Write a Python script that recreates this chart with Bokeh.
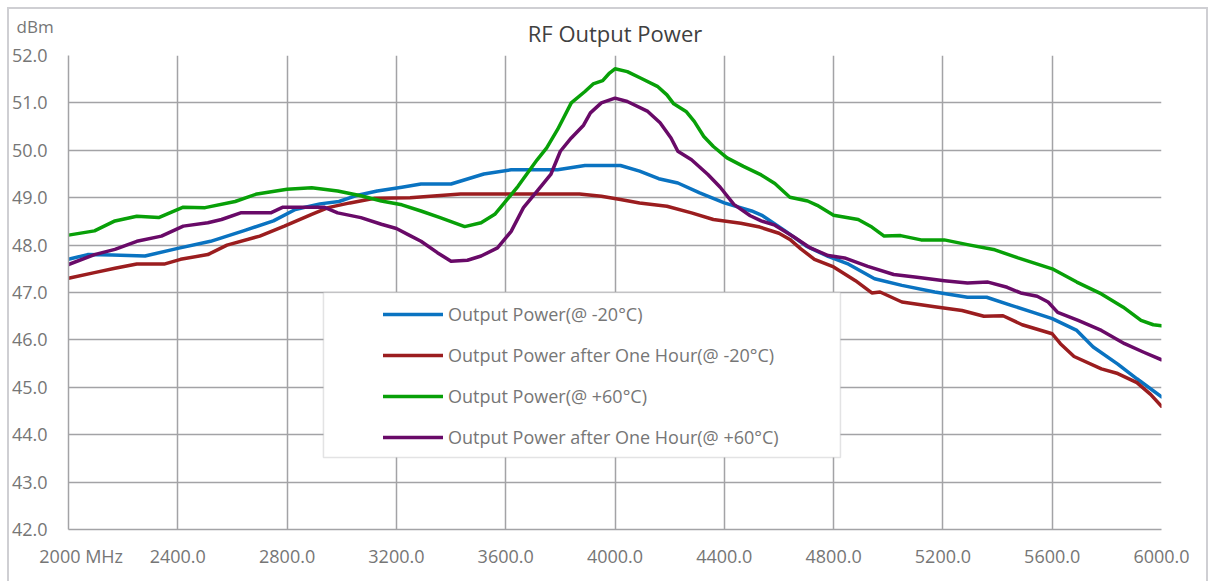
from bokeh.plotting import figure
from bokeh.models import (FixedTicker, Legend, LegendItem, Title, BoxAnnotation,
                          Range1d, NumeralTickFormatter)
from bokeh.embed import file_html
from bokeh.resources import INLINE

# ---------------- data ----------------
freq_m20 = [2000, 2070, 2160, 2280, 2400, 2520, 2640, 2750, 2830, 2920, 2990, 3050,
            3130, 3220, 3290, 3400, 3520, 3620, 3790, 3890, 4020, 4090, 4160, 4230,
            4310, 4400, 4500, 4540, 4620, 4700, 4780, 4850, 4950, 5050, 5170, 5290,
            5360, 5450, 5530, 5600, 5690, 5750, 5840, 5910, 6000]
pwr_m20 = [47.70, 47.80, 47.79, 47.77, 47.93, 48.08, 48.30, 48.51, 48.75, 48.87, 48.92, 49.04,
           49.14, 49.22, 49.29, 49.29, 49.50, 49.59, 49.59, 49.68, 49.68, 49.56, 49.40, 49.31,
           49.10, 48.89, 48.72, 48.62, 48.31, 47.98, 47.76, 47.61, 47.29, 47.15, 47.01, 46.90,
           46.90, 46.73, 46.58, 46.45, 46.20, 45.85, 45.49, 45.18, 44.80]

freq_m20_1h = [2000, 2095, 2170, 2250, 2350, 2410, 2510, 2580, 2700, 2790, 2890, 2950,
               3030, 3120, 3250, 3435, 3580, 3870, 3950, 4020, 4090, 4190, 4280, 4360,
               4460, 4530, 4600, 4640, 4680, 4730, 4800, 4880, 4940, 4970, 5050, 5170,
               5270, 5350, 5420, 5490, 5600, 5630, 5680, 5780, 5840, 5910, 5960, 6000]
pwr_m20_1h = [47.30, 47.42, 47.51, 47.60, 47.60, 47.70, 47.80, 48.00, 48.19, 48.40, 48.65, 48.79,
              48.89, 48.99, 49.00, 49.08, 49.08, 49.08, 49.03, 48.96, 48.89, 48.82, 48.68, 48.54,
              48.46, 48.38, 48.25, 48.12, 47.92, 47.70, 47.54, 47.25, 46.99, 47.01, 46.80, 46.70,
              46.62, 46.50, 46.51, 46.32, 46.13, 45.92, 45.65, 45.39, 45.29, 45.10, 44.85, 44.60]

freq_p60 = [2000, 2095, 2170, 2250, 2330, 2420, 2500, 2610, 2690, 2800, 2890, 2985,
            3070, 3145, 3220, 3290, 3360, 3450, 3510, 3560, 3595, 3645, 3680, 3715,
            3750, 3790, 3840, 3890, 3920, 3955, 3980, 4000, 4045, 4095, 4155, 4190,
            4215, 4260, 4290, 4325, 4360, 4410, 4470, 4535, 4585, 4640, 4705, 4740,
            4800, 4890, 4940, 4985, 5045, 5120, 5205, 5290, 5390, 5475, 5600, 5690,
            5780, 5860, 5925, 5970, 6000]
pwr_p60 = [48.21, 48.30, 48.51, 48.61, 48.58, 48.80, 48.79, 48.92, 49.08, 49.18, 49.21, 49.14,
           49.04, 48.93, 48.85, 48.72, 48.58, 48.39, 48.47, 48.65, 48.89, 49.24, 49.52, 49.80,
           50.05, 50.44, 51.00, 51.24, 51.40, 51.47, 51.63, 51.72, 51.66, 51.52, 51.35, 51.17,
           50.98, 50.82, 50.61, 50.29, 50.08, 49.84, 49.66, 49.48, 49.30, 49.01, 48.93, 48.84,
           48.63, 48.54, 48.38, 48.19, 48.20, 48.11, 48.11, 48.01, 47.90, 47.73, 47.50, 47.22,
           46.97, 46.69, 46.41, 46.32, 46.30]

freq_p60_1h = [2000, 2095, 2170, 2250, 2340, 2420, 2510, 2560, 2630, 2740, 2785, 2850,
               2935, 2985, 3070, 3145, 3200, 3250, 3290, 3350, 3400, 3460, 3510, 3570,
               3620, 3665, 3715, 3765, 3800, 3840, 3885, 3910, 3950, 4000, 4045, 4120,
               4165, 4205, 4230, 4280, 4340, 4385, 4435, 4495, 4535, 4585, 4655, 4715,
               4780, 4840, 4925, 5020, 5105, 5205, 5290, 5365, 5435, 5485, 5545, 5585,
               5620, 5695, 5780, 5865, 5935, 6000]
pwr_p60_1h = [47.59, 47.80, 47.91, 48.08, 48.19, 48.40, 48.47, 48.54, 48.68, 48.68, 48.80, 48.80,
              48.80, 48.68, 48.58, 48.44, 48.35, 48.20, 48.08, 47.84, 47.66, 47.68, 47.77, 47.94,
              48.29, 48.79, 49.14, 49.49, 49.98, 50.26, 50.53, 50.79, 51.00, 51.10, 51.03, 50.82,
              50.58, 50.26, 49.98, 49.80, 49.49, 49.22, 48.86, 48.62, 48.51, 48.42, 48.17, 47.94,
              47.78, 47.73, 47.55, 47.38, 47.32, 47.25, 47.20, 47.22, 47.11, 46.99, 46.92, 46.80,
              46.58, 46.41, 46.20, 45.92, 45.74, 45.58]

series_labels = ["Output Power(@ -20°C)",
                 "Output Power after One Hour(@ -20°C)",
                 "Output Power(@ +60°C)",
                 "Output Power after One Hour(@ +60°C)"]
series_colors = ["#0a73c1", "#9b1d1f", "#08a008", "#690a68"]

x_ticks = [2000, 2400, 2800, 3200, 3600, 4000, 4400, 4800, 5200, 5600, 6000]
y_ticks = [42, 43, 44, 45, 46, 47, 48, 49, 50, 51, 52]
title_text = "RF Output Power"
y_unit = "dBm"
first_x_label = "2000  MHz"

# ---------------- styling ----------------
FONT = "Open Sans"
GRID = "#a3a3a6"
TXT = "#767676"
FRAME = "#cfcfd3"

p = figure(width=1212, height=581, output_backend="svg", toolbar_location=None,
           x_range=Range1d(2000, 6000), y_range=Range1d(42, 52),
           min_border_left=68, min_border_right=51, min_border_top=55,
           min_border_bottom=52)
# thin light-grey chart-area border (drawn by the page behind a transparent border fill)
line_img = f"linear-gradient({FRAME}, {FRAME})"
p.styles = {
    "background-color": "white",
    "background-image": ", ".join([line_img] * 3),
    "background-position": "7px 7px, 7px 7px, 1206px 7px",
    "background-size": "1200px 2px, 2px 100%, 2px 100%",
    "background-repeat": "no-repeat",
}
p.outline_line_color = None
p.background_fill_color = "white"
p.border_fill_alpha = 0

for g, t in ((p.xgrid, x_ticks), (p.ygrid, y_ticks)):
    g.ticker = FixedTicker(ticks=t)
    g.grid_line_color = GRID
    g.grid_line_width = 1.5

for ax in (p.xaxis, p.yaxis):
    ax.axis_line_color = GRID
    ax.axis_line_width = 1.5
    ax.major_tick_line_color = None
    ax.minor_tick_line_color = None
    ax.major_tick_in = 0
    ax.major_tick_out = 0
    ax.minor_tick_in = 0
    ax.minor_tick_out = 0
    ax.major_label_text_font = FONT
    ax.major_label_text_font_size = "18px"
    ax.major_label_text_color = TXT
    ax.formatter = NumeralTickFormatter(format="0.0")

# the first x label ("2000  MHz") sits a little right of its grid line
first_label_pos = x_ticks[0] + 55
p.xaxis.ticker = FixedTicker(ticks=[first_label_pos] + x_ticks[1:])
p.xaxis.major_label_overrides = {first_label_pos: first_x_label}
p.yaxis.ticker = FixedTicker(ticks=y_ticks)
p.xaxis.major_label_standoff = 14
p.yaxis.major_label_standoff = 21

renderers = []
for fx, fy, c in ((freq_m20, pwr_m20, series_colors[0]),
                  (freq_m20_1h, pwr_m20_1h, series_colors[1]),
                  (freq_p60, pwr_p60, series_colors[2]),
                  (freq_p60_1h, pwr_p60_1h, series_colors[3])):
    r = p.line(fx, fy, line_color=c, line_width=3.5, line_join="round", line_cap="round")
    renderers.append(r)

# legend box
box = BoxAnnotation(left=2933, right=4825, top=47.0, bottom=43.52,
                    fill_color="white", fill_alpha=1.0,
                    line_color=GRID, line_width=1.5)
p.add_layout(box)

legend = Legend(items=[LegendItem(label=l, renderers=[r])
                       for l, r in zip(series_labels, renderers)],
                location=(315, 80), glyph_width=60, glyph_height=20, label_height=20,
                label_standoff=5, spacing=17, padding=0, margin=0,
                border_line_alpha=0, background_fill_alpha=0,
                label_text_font=FONT, label_text_font_size="18px",
                label_text_color=TXT, label_text_baseline="middle")
p.add_layout(legend)

# titles: main title (inner), unit label (outer, pulled down next to it)
p.add_layout(Title(text=title_text, align="center", standoff=16,
                   text_font=FONT, text_font_size="22px", text_font_style="normal",
                   text_color="#404040"), "above")
p.add_layout(Title(text=y_unit, align="left", offset=-52, standoff=-60,
                   text_font=FONT, text_font_size="17px", text_font_style="normal",
                   text_color=TXT), "above")

open("out.html", "w").write(file_html(p, INLINE))
